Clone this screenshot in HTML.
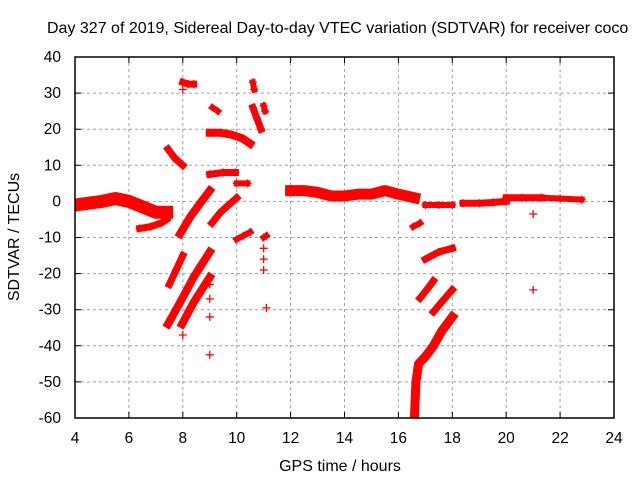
<!DOCTYPE html>
<html><head><meta charset="utf-8"><style>
body{margin:0;background:#fff}
svg{display:block;font-family:"Liberation Sans",sans-serif}
</style></head><body>
<svg id="chart" width="640" height="480" viewBox="0 0 640 480" xmlns="http://www.w3.org/2000/svg">
<defs><clipPath id="pc"><rect x="75" y="57" width="539" height="361"/></clipPath></defs>
<text x="47" y="33" font-size="16" fill="#000">Day 327 of 2019, Sidereal Day-to-day VTEC variation (SDTVAR) for receiver coco</text>
<g id="grid"></g>
<g id="ticks"></g>
<g id="marks" clip-path="url(#pc)"></g>
<rect x="75" y="57" width="539" height="361" fill="none" stroke="#000" stroke-width="1.5"/>
<text x="340" y="471" font-size="16" text-anchor="middle">GPS time / hours</text>
<text transform="translate(19,237) rotate(-90)" font-size="16" text-anchor="middle">SDTVAR / TECUs</text>
</svg>
<script>
const xTicks=[4,6,8,10,12,14,16,18,20,22,24];
const yTicks=[40,30,20,10,0,-10,-20,-30,-40,-50,-60];
const trackTimes=[
[4,4.5,5,5.5,6,6.5,7,7.4],
[6.4,6.8,7.2,7.4],
[7.45,7.7,8.0],
[8.0,8.2,8.4],
[7.9,8.3,8.7,9.0],
[9.08,9.4,9.7,10.0],
[9.0,9.5,9.95],
[9.0,9.4,9.8,10.2,10.5],
[9.1,9.3],
[10.0,10.4],
[10.0,10.25,10.5],
[10.6,10.65],
[10.6,10.75,10.9],
[11.0,11.05],
[11.0,11.1],
[7.5,7.75,8.0],
[7.45,7.9,8.4,9.0],
[7.97,8.4,9.0],
[12,12.5,13,13.5,14,14.5,15,15.5,16,16.6],
[17.0,17.5,18.0],
[18.4,19,19.5,20],
[20,20.6,21.3],
[21.3,22,22.8],
[16.55,16.8],
[17.0,17.5,18.0],
[16.8,17.05,17.3],
[17.3,17.65,18.0],
[16.6,16.65,16.75,17.0,17.3,17.6,18.0]
];
const trackValues=[
[-1,-0.5,0,0.8,0,-1.5,-3,-3],
[-7.5,-7,-6,-5],
[14.5,12,10],
[33,32.5,32.5],
[-9,-4,0,3],
[-6,-3,-1,1],
[7.5,8,8],
[19,19,18.5,17.5,16],
[26,25],
[5,5],
[-10.5,-9.5,-8.5],
[33,31],
[26,23,20],
[26.5,25],
[-10,-9.5],
[-23,-19,-15],
[-34,-28,-21,-14],
[-34,-28,-21],
[3,3,2.5,1.5,1.5,2,2,3,2,1],
[-1,-1,-1],
[-0.5,-0.5,-0.3,0],
[1,1,1],
[1,0.8,0.5],
[-7,-6],
[-16,-14,-13],
[-26.8,-24.5,-22],
[-30.6,-27.5,-24.5],
[-59,-50,-45,-43,-40,-36,-32]
];
const trackWidths=[13,7,7,7,8,7,7,8,6,6,6,6,7,6,6,7,8,8,11,6,7,7,6,6,7,7,7,9];
const outlierTimes=[8.0,8.0,9.0,9.0,9.0,9.0,11.0,11.0,11.0,11.1,21.0,21.0,9.0];
const outlierValues=[-37,31,-23,-27,-32,-42.5,-13,-16,-19,-29.5,-3.5,-24.5,7.5];
const NS='http://www.w3.org/2000/svg';
const X=t=>75+(t-4)*539/20;
const Y=v=>57+(40-v)*361/100;
const grid=document.getElementById('grid'),ticks=document.getElementById('ticks'),marks=document.getElementById('marks');
function mk(tag,attrs,parent){const e=document.createElementNS(NS,tag);for(const k in attrs)e.setAttribute(k,attrs[k]);parent.appendChild(e);return e;}
xTicks.forEach(t=>{
  if(t>4&&t<24){const g=mk('line',{x1:X(t),x2:X(t),y1:57,y2:418,stroke:'#a0a0a0','stroke-dasharray':'3,3'},grid);
  
  }
  const tk=mk('path',{d:`M${X(t)},418v-6M${X(t)},57v6`,stroke:'#000'},ticks);
  
  
  const l=mk('text',{x:X(t),y:443,'font-size':'15.5','text-anchor':'middle'},ticks);l.textContent=t;
  
  
});
yTicks.forEach(v=>{
  if(v<40&&v>-60){const g=mk('line',{x1:75,x2:614,y1:Y(v),y2:Y(v),stroke:'#a0a0a0','stroke-dasharray':'3,3'},grid);
  
  }
  const tk=mk('path',{d:`M75,${Y(v)}h6M614,${Y(v)}h-6`,stroke:'#000'},ticks);
  
  
  const l=mk('text',{x:61,y:Y(v)+5,'font-size':'15.5','text-anchor':'end'},ticks);l.textContent=v;
  
  
});
function plus(t,v,parent){const p=mk('path',{d:`M${X(t)-4},${Y(v)}h8M${X(t)},${Y(v)-4}v8`,stroke:'#f00','stroke-width':'1.3'},parent);
  
  }
trackTimes.forEach((ts,i)=>{
  const vs=trackValues[i];
  const pts=ts.map((t,j)=>X(t)+','+Y(vs[j])).join(' ');
  const pl=mk('polyline',{points:pts,fill:'none',stroke:'#f00','stroke-width':trackWidths[i],'stroke-linejoin':'round','stroke-linecap':'square'},marks);
  
  
  ts.forEach((t,j)=>plus(t,vs[j],marks));
});
outlierTimes.forEach((t,i)=>plus(t,outlierValues[i],marks));
</script>
</body></html>
